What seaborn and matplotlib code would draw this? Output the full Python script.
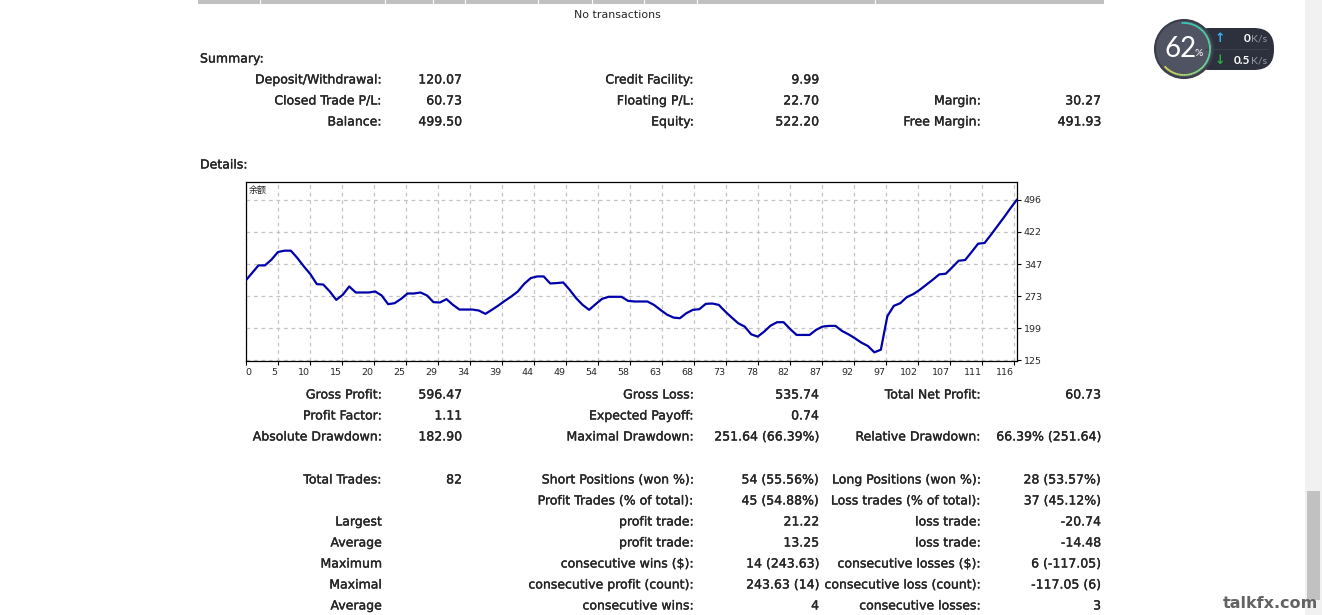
import numpy as np
import pandas as pd
import matplotlib
matplotlib.use("Agg")
import matplotlib.pyplot as plt
import matplotlib.patheffects as pe
from matplotlib.patches import Circle, FancyBboxPatch, Rectangle
import seaborn as sns

# balance curve, one value per trade
balance = [308.8, 326.5, 344.3, 344.3, 357.5, 375.2, 378.3, 378.3, 361.3, 342.0,
           324.2, 301.0, 300.0, 284.0, 264.7, 276.3, 295.6, 281.7, 281.7, 281.7,
           284.0, 274.8, 254.7, 257.0, 267.0, 279.4, 279.4, 281.7, 274.8, 259.3,
           258.6, 266.3, 253.1, 242.3, 242.3, 242.3, 240.0, 232.3, 241.6, 251.6,
           262.4, 272.5, 284.0, 301.8, 315.0, 318.8, 318.8, 302.6, 303.4, 304.9,
           287.9, 268.6, 253.1, 241.6, 254.7, 267.0, 271.7, 271.7, 271.7, 262.4,
           260.9, 260.9, 260.9, 253.1, 241.6, 230.7, 223.8, 222.2, 233.8, 241.6,
           243.1, 255.5, 256.2, 253.1, 237.7, 223.8, 210.6, 202.9, 185.1, 179.7,
           191.3, 205.2, 213.0, 213.0, 197.5, 183.6, 183.6, 183.6, 195.2, 202.9,
           204.5, 204.5, 192.9, 185.1, 175.9, 165.8, 158.1, 143.4, 149.6, 226.9,
           250.8, 257.0, 270.9, 277.9, 287.9, 299.5, 311.1, 323.5, 325.0, 339.7,
           355.1, 356.7, 375.2, 394.5, 396.1, 415.4, 435.5, 455.6, 476.5, 496.5]
x_labels = ["0", "5", "10", "15", "20", "25", "29", "34", "39", "44", "49", "54", "58",
            "63", "68", "73", "78", "82", "87", "92", "97", "102", "107", "111", "116"]
y_ticks = [125, 199, 273, 347, 422, 496]

summary_rows = [
    (79, "Deposit/Withdrawal:", "120.07", "Credit Facility:", "9.99", "", ""),
    (100, "Closed Trade P/L:", "60.73", "Floating P/L:", "22.70", "Margin:", "30.27"),
    (121, "Balance:", "499.50", "Equity:", "522.20", "Free Margin:", "491.93"),
]
detail_rows = [
    (394, "Gross Profit:", "596.47", "Gross Loss:", "535.74", "Total Net Profit:", "60.73"),
    (415, "Profit Factor:", "1.11", "Expected Payoff:", "0.74", "", ""),
    (436, "Absolute Drawdown:", "182.90", "Maximal Drawdown:", "251.64 (66.39%)", "Relative Drawdown:", "66.39% (251.64)"),
    (479, "Total Trades:", "82", "Short Positions (won %):", "54 (55.56%)", "Long Positions (won %):", "28 (53.57%)"),
    (500, "", "", "Profit Trades (% of total):", "45 (54.88%)", "Loss trades (% of total):", "37 (45.12%)"),
    (521, "Largest", "", "profit trade:", "21.22", "loss trade:", "-20.74"),
    (542, "Average", "", "profit trade:", "13.25", "loss trade:", "-14.48"),
    (563, "Maximum", "", "consecutive wins ($):", "14 (243.63)", "consecutive losses ($):", "6 (-117.05)"),
    (584, "Maximal", "", "consecutive profit (count):", "243.63 (14)", "consecutive loss (count):", "-117.05 (6)"),
    (605, "Average", "", "consecutive wins:", "4", "consecutive losses:", "3"),
]
column_right = [382, 462, 694, 819, 981, 1101]
header_gaps = [260, 385, 433, 465, 538, 592, 644, 697, 875]

sns.set_style("white")
plt.rcParams["font.family"] = ["DejaVu Sans", "Noto Sans CJK SC"]

W, H = 1322, 615
fig = plt.figure(figsize=(W / 100, H / 100), dpi=100)

# page layer, one data unit is one pixel
page = fig.add_axes([0, 0, 1, 1])
page.set_xlim(0, W)
page.set_ylim(H, 0)
page.axis("off")

heavy = [pe.withStroke(linewidth=0.2, foreground="black")]

page.add_patch(Rectangle((198, 0), 906, 4, color="#c0c0c0", lw=0))
for gx in header_gaps:
    page.plot([gx, gx], [0, 4], color="white", lw=0.8)
page.text(617.5, 15.5, "No transactions", ha="center", va="center", fontsize=7.9)
page.text(200, 59, "Summary:", va="center", fontsize=9, path_effects=heavy)
page.text(200, 165, "Details:", va="center", fontsize=9, path_effects=heavy)

for row in summary_rows + detail_rows:
    for cx, txt in zip(column_right, row[1:]):
        page.text(cx, row[0] + 1, txt, ha="right", va="center", fontsize=9, path_effects=heavy)

# scrollbar
page.add_patch(Rectangle((1305, 0), 17, H, color="#f1f1f1", lw=0))
page.add_patch(Rectangle((1307, 491), 13, 109, color="#c1c1c1", lw=0))

# speed widget
cx, cy = 1184, 49
page.add_patch(FancyBboxPatch((1190, 28), 84, 42, boxstyle="round,pad=0,rounding_size=20",
                              fc="#2d313d", ec="none"))
page.plot([1205, 1268], [49, 49], color="#3d414d", lw=0.8)
page.add_patch(Circle((cx, cy), 29, fc="#4f5362", ec="#3a3e4a", lw=1.5))
ang = np.linspace(-95, 138, 60)
arc_col = sns.blend_palette(["#35d0c0", "#60dc98", "#e8e050"], len(ang))
for i in range(len(ang) - 1):
    a = np.radians(ang[i:i + 2])
    page.plot(cx + 26 * np.cos(a), cy + 26 * np.sin(a), color=arc_col[i], lw=1.3, solid_capstyle="butt")
page.text(1181, 49, "62", color="white", ha="center", va="center", fontsize=20, family="Lato")
page.text(1199, 54, "%", color="white", ha="center", va="center", fontsize=7.5, family="Lato")
page.text(1220, 38, "↑", color="#3aaef0", ha="center", va="center", fontsize=9, fontweight="bold")
page.text(1220, 60, "↓", color="#28b040", ha="center", va="center", fontsize=9, fontweight="bold")
page.text(1250, 38, "0", color="white", ha="right", va="center", fontsize=8.5, family="Lato", fontweight="bold")
page.text(1250, 60, "0.5", color="white", ha="right", va="center", fontsize=8.5, family="Lato", fontweight="bold")
page.text(1251, 39, "K/s", color="#9a9eaa", ha="left", va="center", fontsize=7.5, family="Lato")
page.text(1251, 61, "K/s", color="#9a9eaa", ha="left", va="center", fontsize=7.5, family="Lato")

# watermark
page.text(1270, 603, "talkfx.com", color="#636363", ha="center", va="center", fontsize=11.5,
          fontweight="bold", family="DejaVu Sans")

# chart
left, right, top, bottom = 245.5, 1017, 182, 361
chart = fig.add_axes([left / W, 1 - bottom / H, (right - left) / W, (bottom - top) / H])
df = pd.DataFrame({"trade": np.arange(len(balance)), "balance": balance})
sns.lineplot(data=df, x="trade", y="balance", ax=chart, color="#0000aa", lw=1.6,
             errorbar=None, zorder=3)
chart.set_xlim(0, 119)
chart.set_ylim(123.4, 537)
chart.set_xlabel("")
chart.set_ylabel("")

# gridlines every 32 px along x
x_pos = [i * 32 / 6.48 for i in range(len(x_labels))]
chart.set_xticks(x_pos)
chart.set_xticklabels(x_labels, fontsize=6.8)
for t, lbl in zip(chart.get_xticklabels(), x_labels):
    t.set_ha("left" if lbl == "0" else "right")
chart.yaxis.tick_right()
chart.set_yticks(y_ticks)
chart.set_yticklabels([str(v) for v in y_ticks], fontsize=6.8)
chart.tick_params(axis="both", which="major", length=3, width=0.8, color="black", bottom=True, right=True, pad=2)
chart.grid(True, color="#c4c4c4", ls=(0, (3, 3)), lw=0.9)
chart.set_axisbelow(True)
for s in chart.spines.values():
    s.set_visible(True)
    s.set_color("black")
    s.set_linewidth(0.9)
chart.text(0.004, 0.955, "余额", transform=chart.transAxes, fontsize=6.5, va="center",
           family=["Noto Sans CJK SC", "DejaVu Sans"])

fig.savefig("out.png", dpi=100, facecolor="white")
